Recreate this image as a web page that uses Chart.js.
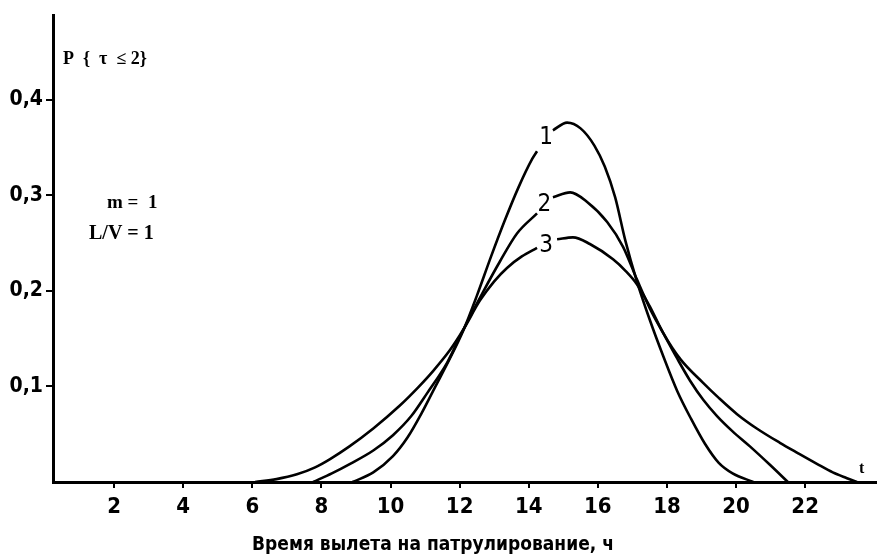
<!DOCTYPE html>
<html>
<head>
<meta charset="utf-8">
<script src="https://cdn.jsdelivr.net/npm/chart.js@4.4.1/dist/chart.umd.min.js"></script>
<style>
  html, body { margin: 0; padding: 0; background: #fff; }
  #wrap { width: 877px; height: 557px; }
</style>
</head>
<body>
<div id="wrap"><canvas id="myChart" width="877" height="557"></canvas></div>
<script>
// data (hours, probability)
const xTicks = [2, 4, 6, 8, 10, 12, 14, 16, 18, 20, 22];
const yTicks = [0.1, 0.2, 0.3, 0.4];

// curve 1 - narrow, tallest (null = gap where label "1" sits)
const c1x = [8.9, 9.5, 10.07, 10.5, 10.9, 11.3, 11.7, 12.1, 12.5, 12.9, 13.3, 13.7, 14.1, 14.24, 14.45, 14.7, 15.11, 15.5, 15.9, 16.2, 16.5, 16.8, 17.13, 17.5, 17.9, 18.3, 18.7, 19.1, 19.5, 19.9, 20.5];
const c1y = [0, 0.01, 0.027, 0.047, 0.072, 0.1, 0.128, 0.158, 0.195, 0.235, 0.273, 0.308, 0.338, 0.346, null, 0.368, 0.376, 0.37, 0.352, 0.33, 0.298, 0.252, 0.21, 0.17, 0.131, 0.095, 0.066, 0.04, 0.02, 0.009, 0];

// curve 2
const c2x = [7.76, 8.3, 8.83, 9.5, 10.07, 10.6, 11.06, 11.64, 12.1, 12.68, 13.17, 13.66, 14.24, 14.45, 14.7, 15.2, 15.69, 16.27, 16.73, 17.13, 17.5, 17.89, 18.3, 18.67, 19.05, 19.45, 19.9, 20.41, 20.98, 21.5];
const c2y = [0, 0.009, 0.019, 0.033, 0.049, 0.069, 0.093, 0.125, 0.159, 0.199, 0.231, 0.26, 0.281, null, 0.298, 0.303, 0.293, 0.272, 0.246, 0.212, 0.182, 0.156, 0.129, 0.106, 0.086, 0.069, 0.053, 0.037, 0.018, 0];

// curve 3 - widest, lowest
const c3x = [6.08, 6.7, 7.29, 7.8, 8.25, 8.8, 9.5, 10.27, 10.8, 11.23, 11.72, 12.1, 12.59, 13.0, 13.37, 13.8, 14.24, 14.5, 14.82, 15.28, 15.77, 16.44, 16.8, 17.13, 17.5, 17.89, 18.4, 19.04, 19.5, 20.03, 20.6, 21.27, 21.8, 22.34, 22.8, 23.21, 23.5];
const c3y = [0, 0.003, 0.008, 0.015, 0.024, 0.037, 0.056, 0.08, 0.099, 0.116, 0.138, 0.159, 0.19, 0.21, 0.224, 0.236, 0.245, null, 0.254, 0.256, 0.249, 0.233, 0.221, 0.207, 0.184, 0.156, 0.128, 0.104, 0.088, 0.071, 0.056, 0.041, 0.03, 0.019, 0.01, 0.004, 0];

const curveNames = ['1', '2', '3'];
const labelX = [14.5, 14.45, 14.5];
const labelY = [0.36, 0.29, 0.247];
const xTitle = 'Время вылета на патрулирование, ч';

const narrow = "'Liberation Sans Narrow', 'DejaVu Sans Condensed', sans-serif";
const serif = "'Liberation Serif', 'DejaVu Serif', serif";

function pts(xs, ys) {
  return xs.map((x, i) => ({ x: x, y: ys[i] }));
}

function curve(xs, ys) {
  return {
    data: pts(xs, ys),
    borderColor: '#000',
    borderWidth: 2.6,
    pointRadius: 0,
    fill: false,
    spanGaps: false,
    cubicInterpolationMode: 'monotone'
  };
}

// extra texts: curve numbers, P{...}, parameters, t, axis title (sits left of centre)
const textPlugin = {
  id: 'texts',
  afterDraw(chart) {
    const ctx = chart.ctx;
    const xs = chart.scales.x, ys = chart.scales.y;
    ctx.save();
    ctx.fillStyle = '#000';
    ctx.textBaseline = 'middle';
    ctx.textAlign = 'center';
    ctx.font = "24px " + narrow;
    curveNames.forEach((n, i) => {
      ctx.fillText(n, xs.getPixelForValue(labelX[i]), ys.getPixelForValue(labelY[i]));
    });
    ctx.font = "bold 19px " + narrow;
    ctx.fillText(xTitle, 433, 545);
    ctx.textAlign = 'left';
    ctx.font = "bold 18px " + serif;
    ctx.fillText('P  {  τ  ≤ 2}', 63, 59);
    ctx.font = "bold 19px " + serif;
    ctx.fillText('m =  1', 107, 203);
    ctx.font = "bold 20px " + serif;
    ctx.fillText('L/V = 1', 89, 234);
    ctx.font = "bold 16px " + serif;
    ctx.fillText('t', 859, 469);
    ctx.restore();
  }
};

const data = {
  datasets: [curve(c1x, c1y), curve(c2x, c2y), curve(c3x, c3y)]
};

const config = {
  type: 'line',
  data,
  options: {
    responsive: false,
    animation: false,
    layout: { padding: { top: 12, right: 0, left: 0, bottom: 0 } },
    plugins: { legend: { display: false }, tooltip: { enabled: false } },
    scales: {
      x: {
        type: 'linear',
        min: 0.23,
        max: 24.08,
        afterFit: (s) => { s.height = 75; },
        afterBuildTicks: (s) => { s.ticks = xTicks.map(v => ({ value: v })); },
        border: { display: true, color: '#000', width: 3 },
        grid: { drawOnChartArea: false, drawTicks: true, tickLength: 6, color: '#000', lineWidth: 2 },
        ticks: {
          color: '#000',
          padding: 6,
          maxRotation: 0,
          autoSkip: false,
          font: { family: narrow, size: 22, weight: 'bold' },
          callback: (v) => String(v)
        }
      },
      y: {
        min: 0,
        max: 0.488,
        afterFit: (s) => { s.width = 53; },
        afterBuildTicks: (s) => { s.ticks = yTicks.map(v => ({ value: v })); },
        border: { display: true, color: '#000', width: 3 },
        grid: { drawOnChartArea: false, drawTicks: true, tickLength: 7, color: '#000', lineWidth: 2 },
        ticks: {
          color: '#000',
          padding: 3,
          font: { family: narrow, size: 21, weight: 'bold' },
          callback: (v) => v.toFixed(1).replace('.', ',')
        }
      }
    }
  },
  plugins: [textPlugin]
};

const myChart = new Chart(document.getElementById('myChart'), config);
</script>
</body>
</html>
